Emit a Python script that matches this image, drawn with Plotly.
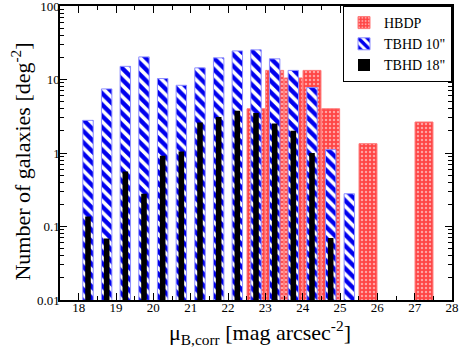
import plotly.graph_objects as go

# HBDP bins
hbdp_x = [22.75, 23.25, 23.75, 24.25, 24.75, 25.75, 27.25]
hbdp_y = [4.0, 13.3, 10.5, 13.3, 4.0, 1.34, 2.64]

# TBHD 10" bins
tb10_x = [18.25, 18.75, 19.25, 19.75, 20.25, 20.75, 21.25, 21.75, 22.25, 22.75,
          23.25, 23.75, 24.25, 24.75, 25.25]
tb10_y = [2.78, 7.45, 15.1, 20.3, 10.3, 8.34, 14.4, 19.7, 24.5, 25.3,
          19.1, 13.3, 7.76, 1.11, 0.279]

# TBHD 18" bins
tb18_x = [18.25, 18.75, 19.25, 19.75, 20.25, 20.75, 21.25, 21.75, 22.25, 22.75,
          23.25, 23.75, 24.25, 24.75]
tb18_y = [0.137, 0.0687, 0.562, 0.279, 0.92, 1.05, 2.61, 3.09, 3.77, 3.51,
          2.51, 2.01, 1.0, 0.0695]

xticks = [18, 19, 20, 21, 22, 23, 24, 25, 26, 27, 28]
yticks = [0.01, 0.1, 1, 10, 100]
ylabels = ["0.01", "0.1", "1", "10", "100"]

serif = "Liberation Serif"

fig = go.Figure()
fig.add_trace(go.Bar(
    x=hbdp_x, y=hbdp_y, width=0.48, name="HBDP",
    marker=dict(color="#ff4545", line=dict(color="#ff7878", width=1),
                pattern=dict(shape=".", fgcolor="white", bgcolor="#ff4545",
                             size=4, solidity=0.3, fillmode="overlay")),
))
fig.add_trace(go.Bar(
    x=tb10_x, y=tb10_y, width=0.28, name='TBHD 10"',
    marker=dict(color="white", line=dict(color="#8c8cff", width=1),
                pattern=dict(shape="\\", fgcolor="#0000ee", bgcolor="white",
                             size=8, solidity=0.55, fillmode="replace")),
))
fig.add_trace(go.Bar(
    x=tb18_x, y=tb18_y, width=0.15, name='TBHD 18"',
    marker=dict(color="black", line=dict(width=0)),
))

minor_y = [m * 10 ** e for e in range(-2, 2) for m in range(2, 10)]

fig.update_layout(
    width=463, height=354,
    margin=dict(l=60, r=11, t=6, b=54),
    barmode="overlay",
    plot_bgcolor="white", paper_bgcolor="white",
    font=dict(family=serif, size=13, color="black"),
    showlegend=True,
    legend=dict(x=1, y=1, xanchor="right", yanchor="top",
                bordercolor="black", borderwidth=1, bgcolor="white",
                font=dict(family=serif, size=14, color="black"),
                tracegroupgap=0, itemwidth=30),
)
fig.update_xaxes(
    range=[17.5, 28], tickmode="array", tickvals=xticks,
    ticks="inside", ticklen=7, tickcolor="black", tickwidth=1,
    minor=dict(dtick=0.5, tick0=0, ticks="inside", ticklen=4, tickcolor="black"),
    showline=True, linecolor="black", linewidth=1.5, mirror="allticks",
    showgrid=False, zeroline=False, automargin=False,
    tickfont=dict(family=serif, size=13), ticklabelstandoff=-5,
    ticklabeloverflow="allow",
)
fig.update_yaxes(
    type="log", range=[-2, 2], tickmode="array", tickvals=yticks, ticktext=ylabels,
    ticks="inside", ticklen=7, tickcolor="black", tickwidth=1,
    minor=dict(tickmode="array", tickvals=minor_y, ticks="inside", ticklen=4,
               tickcolor="black"),
    showline=True, linecolor="black", linewidth=1.5, mirror="allticks",
    showgrid=False, zeroline=False, automargin=False,
    tickfont=dict(family=serif, size=13), ticklabelstandoff=-4,
    ticklabeloverflow="allow",
)
# axis titles as annotations so they can be placed like the original
fig.add_annotation(
    text="Number of galaxies [deg<sup>-2</sup>]", textangle=-90,
    xref="paper", yref="paper", x=-0.10, y=0.47, xanchor="center", yanchor="middle",
    showarrow=False, font=dict(family=serif, size=22, color="black"),
)
fig.add_annotation(
    text="μ<sub>B,corr</sub> [mag arcsec<sup>-2</sup>]",
    xref="paper", yref="paper", x=0.509, y=-0.11, xanchor="center", yanchor="middle",
    showarrow=False, font=dict(family=serif, size=22, color="black"),
)

# drop the default 8px body margin so the figure sits at the window corner
fig.write_html("out.html", config={"displayModeBar": False},
               post_script="document.body.style.margin='0px';")
